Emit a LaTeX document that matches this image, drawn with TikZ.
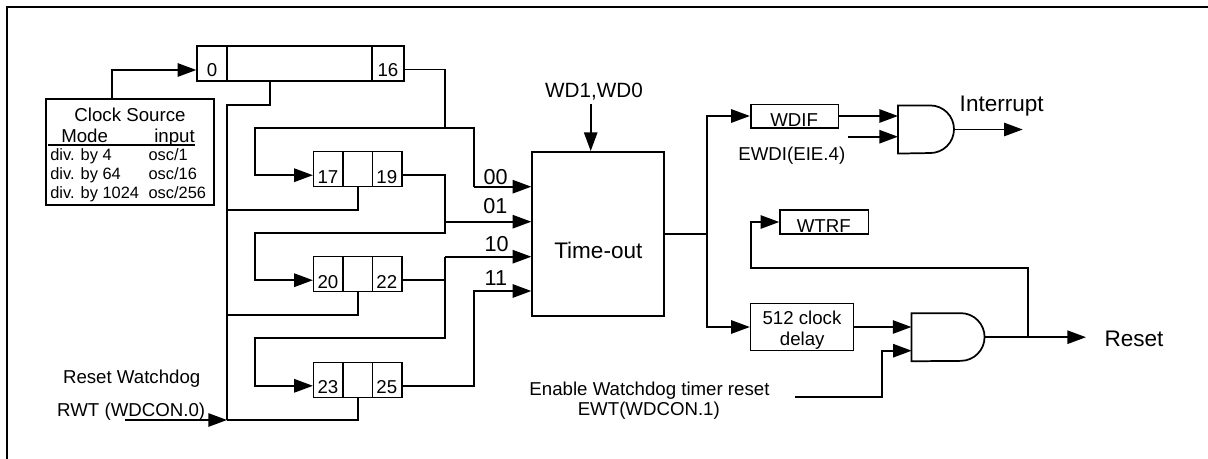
\documentclass[tikz,border=0pt]{standalone}
\usepackage{fontspec}
\setmainfont{Liberation Sans}
\usetikzlibrary{arrows.meta,calc}
\begin{document}
\begin{tikzpicture}[x=0.75pt,y=-0.75pt,
  wire/.style={line width=1.3pt},
  tip/.style={wire,-{Triangle[length=14pt,width=10pt]}},
  cell/.style={draw,line width=1pt,inner sep=0pt,minimum height=26.25pt},
  box/.style={draw,line width=1.2pt,inner sep=0pt},
  txt/.style={inner sep=0pt,anchor=base,font=\fontsize{14}{16}\selectfont},
  small/.style={inner sep=0pt,anchor=base west,font=\fontsize{12.3}{14}\selectfont},
  big/.style={inner sep=0pt,anchor=base,font=\fontsize{16.9}{19}\selectfont},
  sel/.style={inner sep=0pt,anchor=base,font=\fontsize{16.2}{18}\selectfont},
  gate/.style={inner sep=0pt,minimum height=35.7pt}
]
\useasboundingbox (0,0) rectangle (1208,458);
\clip (0,0) rectangle (1208,458);
% frame
\draw[line width=1.6pt] (7,480) -- (7,7) -- (1230,7);

% clock source
\node[box,line width=1.5pt,minimum width=125.55pt,minimum height=79.5pt] (cs) at (130,152) {};
\node[txt] (cst) at (130,121.7) {Clock Source};
\node[txt,anchor=base west] (md) at (61,142.7) {Mode};
\node[txt,anchor=base east] (ip) at (195,142.7) {input};
\draw[line width=1.5pt] (48,144.7) -- (195,144.7);
\node[small] at (50,160.7) {div. by 4};
\node[small] at (148.3,160.7) {osc/1};
\node[small] at (50,179) {div. by 64};
\node[small] at (148.3,179) {osc/16};
\node[small] at (50,198.3) {div. by 1024};
\node[small] at (148.3,198.3) {osc/256};

% main register
\node[cell,minimum width=22.5pt] (c0) at (212,63.5) {};
\node[cell,minimum width=108.75pt] (cm) at (299.5,63.5) {};
\node[cell,minimum width=24pt] (c16) at (388,63.5) {};
\node[txt] at ($(c0)+(0,13)$) {0};
\node[txt] at ($(c16)+(0,13)$) {16};

% small registers
\newcommand\mkreg[4]{%
  \node[cell,minimum width=22.1pt] (a#1) at (328.3,#2) {};
  \node[cell,minimum width=22.1pt] (b#1) at (357.8,#2) {};
  \node[cell,minimum width=22.1pt] (c#1) at (387.3,#2) {};
  \node[txt] at ($(a#1)+(-0.3,14)$) {#3};
  \node[txt] at ($(c#1)+(-0.5,14)$) {#4};
}
\mkreg{17}{169.2}{17}{19}
\mkreg{20}{274.2}{20}{22}
\mkreg{23}{379.8}{23}{25}

% time-out
\node[box,line width=1.5pt,minimum width=98.8pt,minimum height=122.8pt] (to) at (598.2,233.9) {};
\node[big] at (598.3,258.3) {Time-out};
\node[txt,font=\fontsize{15.5}{17}\selectfont] (wd) at (594,97.7) {WD1,WD0};
\coordinate (wdtop) at (590.7,104);
\draw[tip] (wdtop) -- (wdtop |- to.north);

\node[sel] at (495.7,184) {00};
\node[sel] at (495.3,213.3) {01};
\node[sel] at (496.7,251.7) {10};
\node[sel] at (495.8,285.7) {11};

% clock source into register
\coordinate (csup) at (111.7,70);
\draw[tip] (cs.north -| csup) -- (csup) -- (csup -| c0.west);

% bus
\coordinate (bus) at (227,420);
\draw[wire] (270,81) -- (270,105) -- (227,105) -- (bus);
\draw[wire] (227,210) -| (b17.south);
\draw[wire] (227,315) -| (b20.south);
\draw[wire] (bus) -| (b23.south);
\node[txt] at (131.7,383.3) {Reset Watchdog};
\node[txt] at (131.2,416) {RWT (WDCON.0)};
\coordinate (rwt) at (125,420);
\draw[tip] (rwt) -- (bus);

% inputs of time-out
\coordinate (i00) at (474,186.7);
\coordinate (i01) at (445,221.7);
\coordinate (i10) at (445,256.7);
\coordinate (i11) at (474,291);

% 16 output and loop to 17
\draw[wire] ($(c16.east)+(0,6)$) -| (445,127.7);
\draw[tip] (i00) -- (474,127.7) -- (255,127.7) |- ($(a17.west)+(0,6)$);
\draw[tip] (i00) -- (i00 -| to.west);

% 19 output
\draw[tip] ($(c17.east)+(0,6)$) -| (445,233.3) -- (255,233.3) |- ($(a20.west)+(0,6)$);
\draw[tip] (i01) -- (i01 -| to.west);

% 22 output
\coordinate (o22) at ($(c20.east)+(0,6)$);
\draw[wire] (o22) -- (o22 -| i10);
\draw[tip] (i10) -- (445,338.3) -- (255,338.3) |- ($(a23.west)+(0,6)$);
\draw[tip] (i10) -- (i10 -| to.west);

% 25 output
\draw[tip] ($(c23.east)+(0,6)$) -| (i11) -- (i11 -| to.west);

% right part
\node[box,minimum width=65.7pt,minimum height=17.55pt] (wdif) at (794.5,116) {};
\node[txt] at (794.2,126.7) {WDIF};
\node[txt] at (791.8,160) {EWDI(EIE.4)};
\node[box,minimum width=66.2pt,minimum height=18pt] (wtrf) at (824.2,222) {};
\node[txt] at (823.7,232.7) {WTRF};
\node[box,minimum width=77pt,minimum height=35.5pt] (dly) at (802,327) {};
\node[txt] at (802,324.3) {512 clock};
\node[txt] at (802.2,345) {delay};

\coordinate (split) at (706.7,233.9);
\draw[wire] (to.east) -- (split);
\draw[tip] (split) |- (wdif.west);
\draw[tip] (split) |- (dly.west);

% gate 1
\node[gate,minimum width=41.6pt] (g1) at (926,129.5) {};
\draw[line width=1.3pt] (g1.north west) -- ($(g1.north east)+(-23.8,0)$)
   arc[start angle=90,end angle=-90,radius=17.85pt] -- (g1.south west) -- cycle;
\draw[tip] (wdif.east) -- (wdif.east -| g1.west);
\coordinate (ewdi) at (848.3,136.7);
\draw[tip] (ewdi) -- (ewdi -| g1.west);
\coordinate (intr) at (1022.7,129.5);
\draw[tip] (g1.east) -- (intr);
\node[big] at (1001.7,111) {Interrupt};

% gate 2
\node[gate,minimum width=54.45pt] (g2) at (948,337.2) {};
\draw[line width=1.3pt] (g2.north west) -- ($(g2.north east)+(-23.85,0)$)
   arc[start angle=90,end angle=-90,radius=17.9pt] -- (g2.south west) -- cycle;
\draw[tip] (dly.east) -- (dly.east -| g2.west);
\coordinate (ewt) at (795,397);
\draw[tip] (ewt) -- (881.7,397) |- (911.7,350.7);
\node[txt] at (649.5,395) {Enable Watchdog timer reset};
\node[txt] at (648.8,415.7) {EWT(WDCON.1)};
\coordinate (rst) at (1086,337.2);
\draw[tip] (g2.east) -- (rst);
\node[big] at (1134,346) {Reset};
\draw[tip] (1028.3,337.2) -- (1028.3,268.3) -- (750.7,268.3) |- (wtrf.west);
\end{tikzpicture}
\end{document}
